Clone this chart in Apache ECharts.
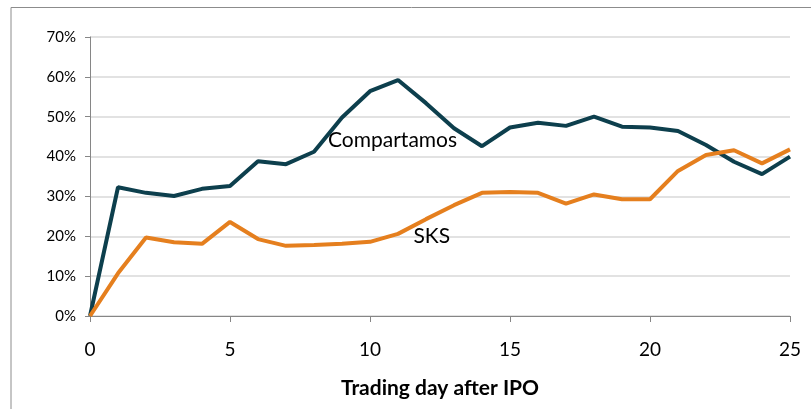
<!DOCTYPE html>
<html>
<head>
<meta charset="utf-8">
<script src="https://cdn.jsdelivr.net/npm/echarts@6/dist/echarts.min.js"></script>
<style>
html, body { margin: 0; padding: 0; background: #fff; }
#chart { width: 811px; height: 409px; }
</style>
</head>
<body>
<div id="chart"></div>
<script>
// trading days after the IPO
var days = [0, 1, 2, 3, 4, 5, 6, 7, 8, 9, 10, 11, 12, 13, 14, 15, 16, 17, 18, 19, 20, 21, 22, 23, 24, 25];
// cumulative return, in %
var compartamos = [0, 32.3, 30.9, 30.1, 31.9, 32.6, 38.8, 38.1, 41.2, 49.8, 56.4, 59.2, 53.4, 47.1, 42.6, 47.3, 48.5, 47.7, 50.0, 47.5, 47.3, 46.4, 42.9, 38.7, 35.6, 40.0];
var sks = [0, 10.7, 19.7, 18.5, 18.1, 23.6, 19.3, 17.6, 17.8, 18.1, 18.6, 20.6, 24.3, 27.8, 30.9, 31.1, 30.9, 28.2, 30.5, 29.3, 29.3, 36.4, 40.4, 41.6, 38.3, 41.8];
// where the series names are written on the plot [day, %]
var compartamosLabelAt = [8.5, 44.2];
var sksLabelAt = [11.55, 20.1];

var chart = echarts.init(document.getElementById('chart'));

function pairs(vals) {
    var out = [];
    for (var i = 0; i < days.length; i++) {
        out.push([days[i], vals[i]]);
    }
    return out;
}

function nameMark(text, at) {
    return {
        symbol: 'circle',
        symbolSize: 0,
        silent: true,
        label: {
            show: true,
            position: 'right',
            distance: 0,
            formatter: text,
            color: '#000',
            fontFamily: 'Lato',
            fontSize: 21
        },
        data: [{ coord: at }]
    };
}

var option = {
    animation: false,
    textStyle: { fontFamily: 'Lato' },
    graphic: [{
        type: 'rect',
        shape: { x: 11, y: 7.5, width: 820, height: 420 },
        style: { fill: 'none', stroke: '#8c8c8c', lineWidth: 1 },
        silent: true
    }],
    grid: { left: 90, right: 21, top: 37, bottom: 93 },
    xAxis: {
        type: 'value',
        min: 0,
        max: 25,
        interval: 5,
        name: 'Trading day after IPO',
        nameLocation: 'middle',
        nameGap: 62,
        nameTextStyle: { color: '#000', fontSize: 21, fontWeight: 'bold', fontFamily: 'Lato' },
        axisLine: { show: true, lineStyle: { color: '#868686', width: 1 } },
        axisTick: { show: true, length: 6, lineStyle: { color: '#868686' } },
        axisLabel: { color: '#000', fontSize: 19, margin: 24 },
        splitLine: { show: false }
    },
    yAxis: {
        type: 'value',
        min: 0,
        max: 70,
        interval: 10,
        axisLine: { show: true, lineStyle: { color: '#868686', width: 1 } },
        axisTick: { show: true, length: 5, lineStyle: { color: '#868686' } },
        axisLabel: { color: '#000', fontSize: 15, margin: 14, formatter: '{value}%' },
        splitLine: { show: true, lineStyle: { color: '#d9d9d9', width: 1.5 } }
    },
    series: [
        {
            name: 'Compartamos',
            type: 'line',
            data: pairs(compartamos),
            showSymbol: false,
            lineStyle: { color: '#0d3f4d', width: 4 },
            itemStyle: { color: '#0d3f4d' },
            markPoint: nameMark('Compartamos', compartamosLabelAt)
        },
        {
            name: 'SKS',
            type: 'line',
            data: pairs(sks),
            showSymbol: false,
            lineStyle: { color: '#e57f1e', width: 4 },
            itemStyle: { color: '#e57f1e' },
            markPoint: nameMark('SKS', sksLabelAt)
        }
    ]
};

chart.setOption(option);
</script>
</body>
</html>
